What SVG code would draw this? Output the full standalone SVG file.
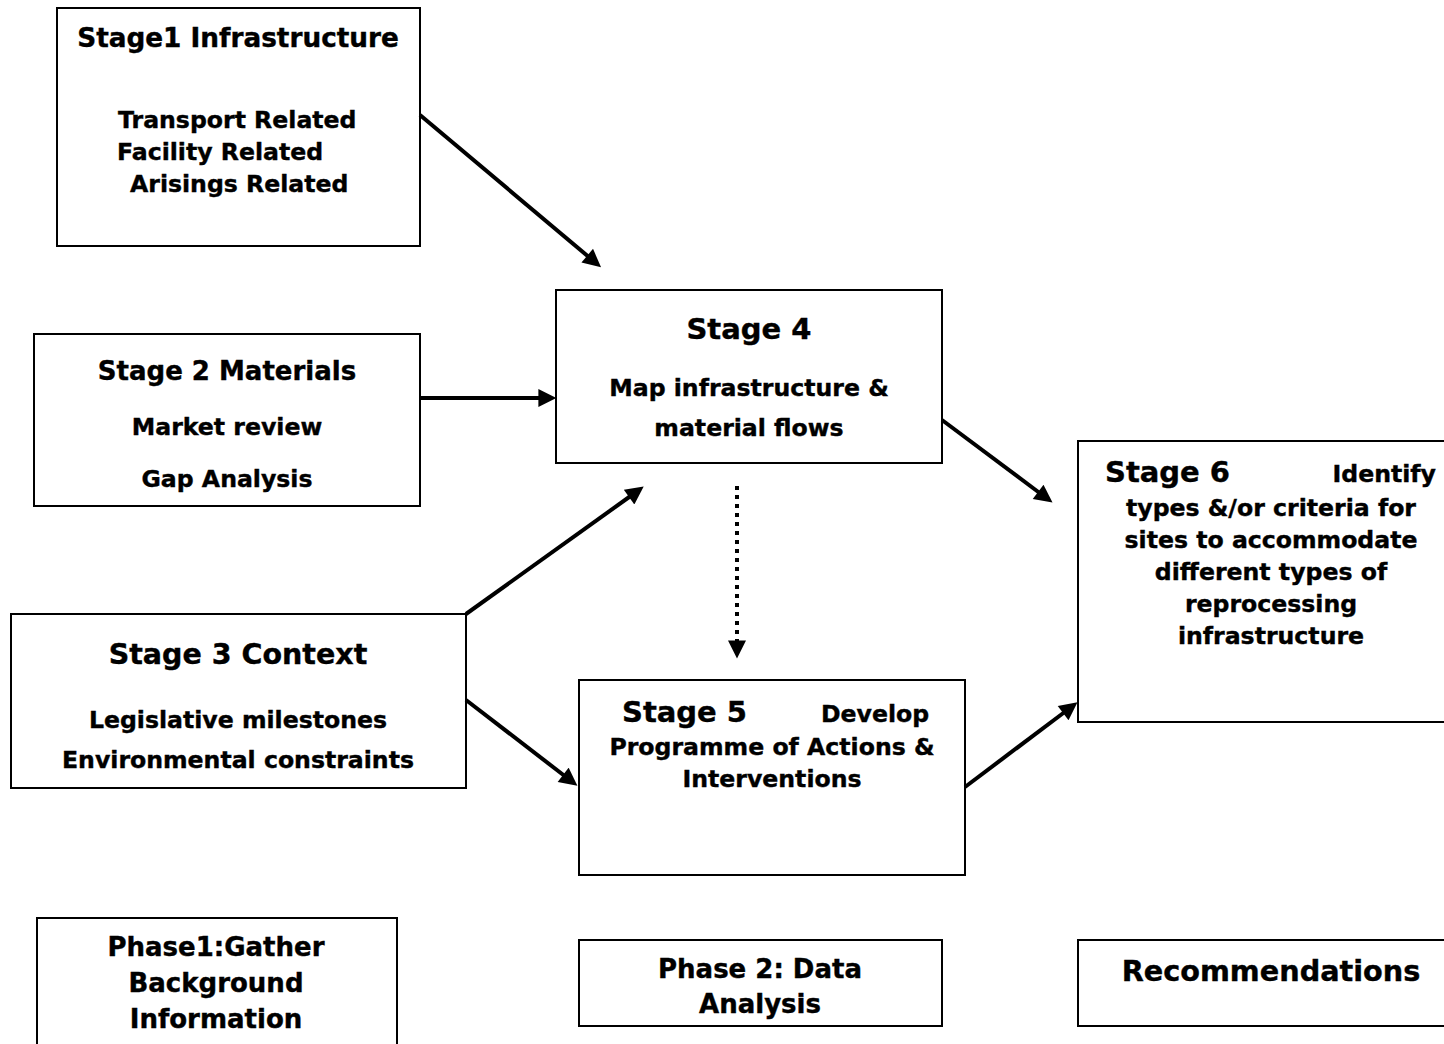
<svg xmlns="http://www.w3.org/2000/svg" width="1444" height="1044" viewBox="0 0 1444 1044">
<defs>
<style>
.box{fill:#fff;stroke:#000;stroke-width:2}
text{font-family:"DejaVu Sans","Liberation Sans",sans-serif;font-weight:bold;fill:#000;stroke:#000;stroke-width:0.4}
.h{font-size:26px}
.t{font-size:23.6px}
.c{text-anchor:middle}
.e{text-anchor:end}
.arr{stroke:#000;stroke-width:4;fill:none;marker-end:url(#ah)}
.dot{stroke:#000;stroke-width:4;fill:none;stroke-dasharray:4 5;marker-end:url(#ah)}
</style>
<marker id="ah" viewBox="0 0 10 10" refX="2" refY="5" markerWidth="5" markerHeight="4.5" orient="auto" markerUnits="strokeWidth">
<path d="M0,0 L10,5 L0,10 z" fill="#000"/>
</marker>
</defs>
<rect width="1444" height="1044" fill="#fff"/>
<g id="stage1">
<rect class="box" x="57" y="8" width="363" height="238"/>
<text class="c" x="238" y="47" style="font-size:26.3px">Stage1 Infrastructure</text>
<text class="t" x="118" y="128">Transport Related</text>
<text class="t" x="117" y="160">Facility Related</text>
<text class="t" x="130" y="192">Arisings Related</text>
</g>
<g id="stage2">
<rect class="box" x="34" y="334" width="386" height="172"/>
<text class="h c" x="227" y="380">Stage 2 Materials</text>
<text class="t c" x="227" y="435">Market review</text>
<text class="t c" x="227" y="487">Gap Analysis</text>
</g>
<g id="stage4">
<rect class="box" x="556" y="290" width="386" height="173"/>
<text class="c" x="749" y="339" style="font-size:29px">Stage 4</text>
<text class="t c" x="749" y="396">Map infrastructure &amp;</text>
<text class="t c" x="749" y="436">material flows</text>
</g>
<g id="stage3">
<rect class="box" x="11" y="614" width="455" height="174"/>
<text class="c" x="238" y="664" style="font-size:28.5px">Stage 3 Context</text>
<text class="t c" x="238" y="728">Legislative milestones</text>
<text class="t c" x="238" y="768">Environmental constraints</text>
</g>
<g id="stage5">
<rect class="box" x="579" y="680" width="386" height="195"/>
<text x="622" y="722" style="font-size:29px">Stage 5</text>
<text class="t" x="821" y="722">Develop</text>
<text class="t c" x="772" y="755">Programme of Actions &amp;</text>
<text class="t c" x="772" y="787">Interventions</text>
</g>
<g id="stage6">
<rect class="box" x="1078" y="441" width="370" height="281"/>
<text x="1105" y="482" style="font-size:29px">Stage 6</text>
<text class="t e" x="1436" y="482">Identify</text>
<text class="t c" x="1271" y="516">types &amp;/or criteria for</text>
<text class="t c" x="1271" y="548">sites to accommodate</text>
<text class="t c" x="1271" y="580">different types of</text>
<text class="t c" x="1271" y="612">reprocessing</text>
<text class="t c" x="1271" y="644">infrastructure</text>
</g>
<g id="phase1">
<rect class="box" x="37" y="918" width="360" height="140"/>
<text class="h c" x="216" y="956">Phase1:Gather</text>
<text class="h c" x="216" y="992">Background</text>
<text class="h c" x="216" y="1028">Information</text>
</g>
<g id="phase2">
<rect class="box" x="579" y="940" width="363" height="86"/>
<text class="h c" x="760" y="978">Phase 2: Data</text>
<text class="h c" x="760" y="1013">Analysis</text>
</g>
<g id="recommendations">
<rect class="box" x="1078" y="940" width="370" height="86"/>
<text class="c" x="1271" y="981" style="font-size:28.7px">Recommendations</text>
</g>
<g id="connectors">
<line class="arr" x1="420" y1="115" x2="590" y2="258"/>
<line class="arr" x1="420" y1="398" x2="542" y2="398"/>
<line class="arr" x1="466" y1="614" x2="632" y2="495"/>
<line class="arr" x1="466" y1="700" x2="566" y2="777"/>
<line class="arr" x1="942" y1="420" x2="1041" y2="494"/>
<line class="arr" x1="965" y1="787" x2="1066" y2="711"/>
<line class="dot" x1="737" y1="486" x2="737" y2="644"/>
</g>
</svg>
